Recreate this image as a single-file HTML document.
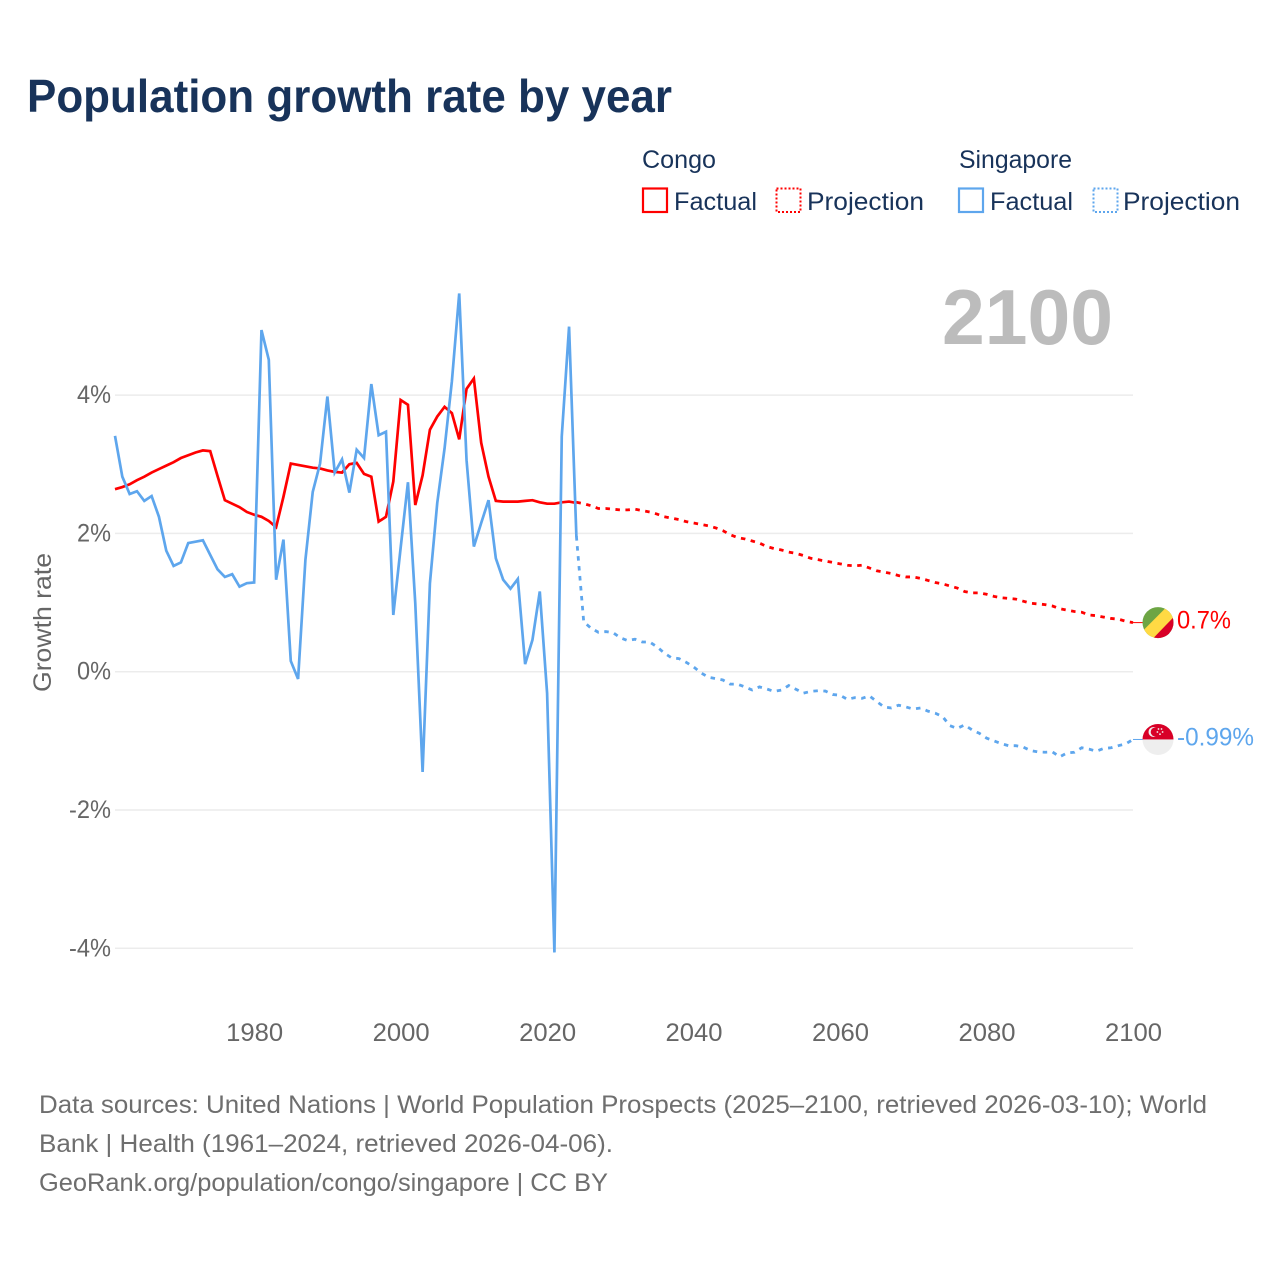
<!DOCTYPE html>
<html lang="en">
<head>
<meta charset="utf-8">
<title>Population growth rate by year</title>
<style>
  html, body { margin: 0; padding: 0; background: #fff; }
  body { width: 1280px; height: 1280px; overflow: hidden; }
  svg { display: block; font-family: "Liberation Sans", sans-serif; }
</style>
</head>
<body>
<svg id="chart" width="1280" height="1280" viewBox="0 0 1280 1280" xmlns="http://www.w3.org/2000/svg">
  <rect width="1280" height="1280" fill="#fff"/>
  <text x="27" y="112" font-size="46" font-weight="700" fill="#18335a" textLength="645" lengthAdjust="spacingAndGlyphs">Population growth rate by year</text>

  <g font-size="25" fill="#18335a">
    <text x="642" y="168" textLength="74" lengthAdjust="spacingAndGlyphs">Congo</text>
    <text x="959" y="168" textLength="113" lengthAdjust="spacingAndGlyphs">Singapore</text>
    <g>
      <rect x="643" y="188.5" width="24" height="23.5" fill="none" stroke="#ff0000" stroke-width="2.2"/>
      <text x="674" y="210" textLength="83" lengthAdjust="spacingAndGlyphs">Factual</text>
    </g>
    <g>
      <rect x="776.5" y="188.5" width="24" height="23.5" fill="none" stroke="#ff0000" stroke-width="2" stroke-dasharray="2 2"/>
      <text x="807" y="210" textLength="117" lengthAdjust="spacingAndGlyphs">Projection</text>
    </g>
    <g>
      <rect x="959" y="188.5" width="24" height="23.5" fill="none" stroke="#5ea6ed" stroke-width="2.2"/>
      <text x="990" y="210" textLength="83" lengthAdjust="spacingAndGlyphs">Factual</text>
    </g>
    <g>
      <rect x="1093.5" y="188.5" width="24" height="23.5" fill="none" stroke="#5ea6ed" stroke-width="2" stroke-dasharray="2 2"/>
      <text x="1123" y="210" textLength="117" lengthAdjust="spacingAndGlyphs">Projection</text>
    </g>
  </g>

  <text x="942" y="344" font-size="78" font-weight="700" fill="#bcbcbc" textLength="171" lengthAdjust="spacingAndGlyphs">2100</text>

  <g id="grid"></g>
  <g id="y-axis"></g>
  <g id="x-axis"></g>
  <text transform="translate(51,622.5) rotate(-90)" text-anchor="middle" font-size="25" fill="#666" textLength="139" lengthAdjust="spacingAndGlyphs">Growth rate</text>

  <g id="series"></g>

  <defs>
    <clipPath id="flag-clip"><circle cx="0" cy="0" r="15.5"/></clipPath>
  </defs>
  <g id="flag-congo">
    <g clip-path="url(#flag-clip)">
      <rect x="-16" y="-16" width="32" height="32" fill="#6da544"/>
      <polygon points="-16,9 9,-16 24,-16 -4,20" fill="#ffda44"/>
      <polygon points="-9,20 20,-10 20,20" fill="#d80027"/>
    </g>
  </g>
  <g id="flag-singapore">
    <g clip-path="url(#flag-clip)">
      <rect x="-16" y="-16" width="32" height="16" fill="#d80027"/>
      <rect x="-16" y="0" width="32" height="16" fill="#eeeeee"/>
      <circle cx="-4.5" cy="-7.5" r="5" fill="#f0f0f0"/>
      <circle cx="-2.8" cy="-7.5" r="4.5" fill="#d80027"/>
      <circle cx="0.5" cy="-10.5" r="0.9" fill="#f0f0f0"/>
      <circle cx="3.5" cy="-10.5" r="0.9" fill="#f0f0f0"/>
      <circle cx="4.6" cy="-7.5" r="0.9" fill="#f0f0f0"/>
      <circle cx="2" cy="-5.3" r="0.9" fill="#f0f0f0"/>
      <circle cx="-0.6" cy="-7.5" r="0.9" fill="#f0f0f0"/>
    </g>
  </g>
  <g id="end-labels"></g>

  <g font-size="25" fill="#6e6e6e">
    <text x="39" y="1113" textLength="1168" lengthAdjust="spacingAndGlyphs">Data sources: United Nations | World Population Prospects (2025–2100, retrieved 2026-03-10); World</text>
    <text x="39" y="1152" textLength="574" lengthAdjust="spacingAndGlyphs">Bank | Health (1961–2024, retrieved 2026-04-06).</text>
    <a><text x="39" y="1191" textLength="569" lengthAdjust="spacingAndGlyphs">GeoRank.org/population/congo/singapore | CC BY</text></a>
  </g>
</svg>

<script>
const factualStartYear = 1961;
const projectionStartYear = 2024;
const xTickYears = [1980, 2000, 2020, 2040, 2060, 2080, 2100];
const yTickValues = [4, 2, 0, -2, -4];
const yTickLabels = ["4%", "2%", "0%", "-2%", "-4%"];
const yTickLabelWidths = [34, 34, 34, 42, 42];
const endLabelCongo = "0.7%";
const endLabelSingapore = "-0.99%";

const congoFactual = [
  2.64,2.67,2.71,2.77,2.82,2.88,2.93,2.98,3.03,3.09,
  3.13,3.17,3.20,3.19,2.83,2.48,2.43,2.38,2.31,2.27,
  2.24,2.18,2.09,2.53,3.01,2.99,2.97,2.95,2.94,2.91,
  2.89,2.88,3.00,3.02,2.86,2.82,2.17,2.24,2.75,3.93,
  3.86,2.41,2.84,3.50,3.69,3.83,3.74,3.36,4.09,4.24,
  3.31,2.82,2.47,2.46,2.46,2.46,2.47,2.48,2.45,2.43,
  2.43,2.45,2.46,2.44
];

const congoProjection = [
  2.45,2.43,2.40,2.36,2.36,2.35,2.34,2.34,2.35,2.33,
  2.31,2.28,2.24,2.22,2.20,2.17,2.15,2.13,2.11,2.08,
  2.04,1.98,1.94,1.92,1.89,1.86,1.81,1.78,1.76,1.73,
  1.71,1.68,1.64,1.62,1.60,1.58,1.56,1.54,1.53,1.54,
  1.50,1.46,1.44,1.42,1.39,1.37,1.37,1.35,1.32,1.29,
  1.27,1.24,1.21,1.16,1.14,1.14,1.12,1.09,1.07,1.06,
  1.05,1.02,0.99,0.98,0.97,0.95,0.91,0.89,0.87,0.86,
  0.82,0.81,0.79,0.77,0.76,0.73,0.71
];

const singaporeFactual = [
  3.41,2.82,2.57,2.61,2.47,2.54,2.24,1.75,1.53,1.58,
  1.86,1.88,1.90,1.69,1.48,1.37,1.41,1.23,1.28,1.29,
  4.94,4.51,1.33,1.91,0.155,-0.105,1.62,2.60,3.01,3.98,
  2.88,3.07,2.59,3.21,3.09,4.16,3.42,3.47,0.82,1.79,
  2.74,0.99,-1.45,1.28,2.44,3.23,4.20,5.47,3.06,1.81,
  2.15,2.48,1.64,1.33,1.20,1.34,0.11,0.46,1.16,-0.31,
  -4.06,3.40,4.99,1.95
];

const singaporeProjection = [
  1.96,0.72,0.63,0.57,0.58,0.565,0.49,0.45,0.47,0.43,
  0.43,0.36,0.27,0.20,0.19,0.135,0.07,-0.015,-0.08,-0.10,
  -0.12,-0.18,-0.18,-0.22,-0.265,-0.22,-0.25,-0.285,-0.265,-0.20,
  -0.255,-0.31,-0.285,-0.275,-0.28,-0.33,-0.34,-0.40,-0.375,-0.385,
  -0.35,-0.43,-0.51,-0.525,-0.485,-0.51,-0.54,-0.525,-0.57,-0.60,
  -0.65,-0.78,-0.82,-0.77,-0.84,-0.89,-0.96,-1.00,-1.04,-1.07,
  -1.07,-1.09,-1.14,-1.16,-1.165,-1.16,-1.23,-1.175,-1.165,-1.10,
  -1.12,-1.15,-1.11,-1.10,-1.07,-1.045,-0.98
];

const SVG_NS = "http://www.w3.org/2000/svg";
const xScale = function (year) { return 115 + (year - 1961) * (1133 - 115) / (2100 - 1961); };
const yScale = function (value) { return 671.7 - value * 69.15; };

function make(tag, attrs, parentId) {
  const el = document.createElementNS(SVG_NS, tag);
  Object.keys(attrs).forEach(function (k) { el.setAttribute(k, attrs[k]); });
  document.getElementById(parentId).appendChild(el);
  return el;
}

yTickValues.forEach(function (v, i) {
  const line = make("line", { x1: 115, x2: 1133, y1: yScale(v), y2: yScale(v), stroke: "#ececec", "stroke-width": 1.5 }, "grid");
  
  
  const label = make("text", { x: 111, y: yScale(v) + 8, "text-anchor": "end", "font-size": 25, fill: "#666", textLength: yTickLabelWidths[i], lengthAdjust: "spacingAndGlyphs" }, "y-axis");
  
  
  label.textContent = yTickLabels[i];
});

xTickYears.forEach(function (year) {
  const label = make("text", { x: xScale(year) + 0.5, y: 1041, "text-anchor": "middle", "font-size": 25, fill: "#666", textLength: 57, lengthAdjust: "spacingAndGlyphs" }, "x-axis");
  
  
  label.textContent = String(year);
});

function linePath(values, startYear) {
  return values.map(function (v, i) {
    return (i ? "L" : "M") + xScale(startYear + i).toFixed(2) + " " + yScale(v).toFixed(2);
  }).join("");
}

const congoColor = "#ff0000";
const singaporeColor = "#5ea6ed";

const congoProjectionLine = make("path", { d: linePath(congoProjection, projectionStartYear), fill: "none", stroke: congoColor, "stroke-width": 2.8, "stroke-dasharray": "4.5 5.5" }, "series");



const congoFactualLine = make("path", { d: linePath(congoFactual, factualStartYear), fill: "none", stroke: congoColor, "stroke-width": 2.7 }, "series");



const singaporeProjectionLine = make("path", { d: linePath(singaporeProjection, projectionStartYear), fill: "none", stroke: singaporeColor, "stroke-width": 2.8, "stroke-dasharray": "4.5 5.5" }, "series");



const singaporeFactualLine = make("path", { d: linePath(singaporeFactual, factualStartYear), fill: "none", stroke: singaporeColor, "stroke-width": 2.7 }, "series");



const congoEndY = yScale(congoProjection[congoProjection.length - 1]);
const singaporeEndY = yScale(singaporeProjection[singaporeProjection.length - 1]);

const congoConnector = make("line", { x1: xScale(2100), x2: 1143, y1: congoEndY, y2: congoEndY, stroke: congoColor, "stroke-width": 1 }, "series");



const singaporeConnector = make("line", { x1: xScale(2100), x2: 1143, y1: singaporeEndY, y2: singaporeEndY, stroke: singaporeColor, "stroke-width": 1 }, "series");



document.getElementById("flag-congo").setAttribute("transform", "translate(1158," + congoEndY + ")");
document.getElementById("flag-singapore").setAttribute("transform", "translate(1158," + singaporeEndY + ")");

const congoValueLabel = make("text", { x: 1177, y: congoEndY + 6, "font-size": 25, fill: congoColor, textLength: 54, lengthAdjust: "spacingAndGlyphs" }, "end-labels");


congoValueLabel.textContent = endLabelCongo;

const singaporeValueLabel = make("text", { x: 1177, y: singaporeEndY + 6, "font-size": 25, fill: singaporeColor, textLength: 77, lengthAdjust: "spacingAndGlyphs" }, "end-labels");


singaporeValueLabel.textContent = endLabelSingapore;
</script>
</body>
</html>
